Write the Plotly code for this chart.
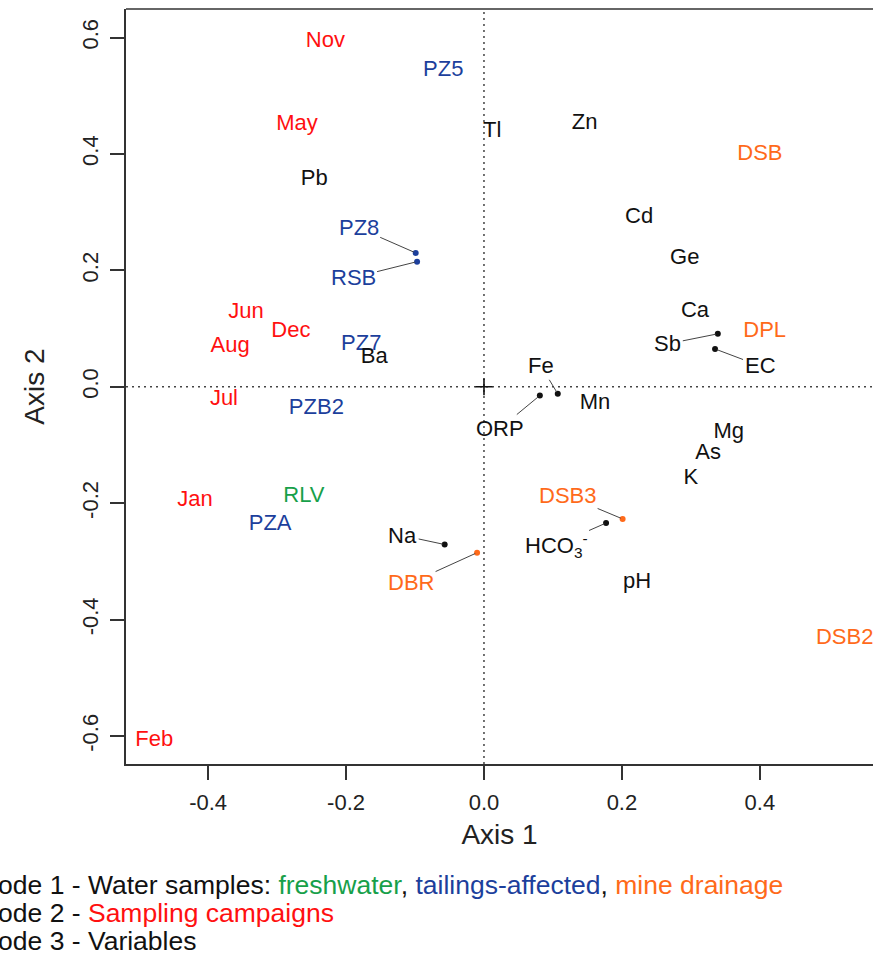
import plotly.graph_objects as go

FONT = "Liberation Sans, Arial, Helvetica, sans-serif"
GREEN = "#17a04a"
BLUE = "#1c3f9c"
ORANGE = "#ff6a1a"
RED = "#ff1010"
BLACK = "#111111"
TYPE_COLOR = {"freshwater": GREEN, "tailings": BLUE, "drainage": ORANGE}

# ---------------- data ----------------
# Mode 1 - water samples (label at coordinate)
samples = ["RLV", "PZ5", "PZ7", "PZB2", "PZA", "DSB", "DPL", "DSB2"]
samples_x = [-0.261, -0.059, -0.178, -0.243, -0.310, 0.400, 0.407, 0.523]
samples_y = [-0.189, 0.543, 0.073, -0.038, -0.236, 0.399, 0.095, -0.433]
samples_type = ["freshwater", "tailings", "tailings", "tailings", "tailings",
                "drainage", "drainage", "drainage"]

# Mode 1 - water samples drawn as points with leader labels
samples_pt = ["PZ8", "RSB", "DSB3", "DBR"]
samples_pt_x = [-0.099, -0.097, 0.201, -0.010]
samples_pt_y = [0.230, 0.215, -0.227, -0.285]
samples_pt_type = ["tailings", "tailings", "drainage", "drainage"]

# Mode 2 - sampling campaigns
campaigns = ["Nov", "May", "Jun", "Dec", "Aug", "Jul", "Jan", "Feb"]
campaigns_x = [-0.230, -0.271, -0.345, -0.280, -0.368, -0.377, -0.419, -0.478]
campaigns_y = [0.593, 0.451, 0.128, 0.095, 0.069, -0.021, -0.196, -0.607]

# Mode 3 - variables (label at coordinate)
variables = ["Tl", "Zn", "Pb", "Cd", "Ge", "Ca", "Ba", "Mn", "Mg", "As", "K", "pH"]
variables_x = [0.012, 0.146, -0.246, 0.225, 0.291, 0.306, -0.159, 0.161, 0.355, 0.325, 0.300, 0.222]
variables_y = [0.439, 0.452, 0.356, 0.291, 0.220, 0.129, 0.050, -0.028, -0.079, -0.115, -0.158, -0.337]

# Mode 3 - variables drawn as points with leader labels
variables_pt = ["Sb", "EC", "Fe", "ORP", "Na", "HCO<sub>3</sub><sup>-</sup>"]
variables_pt_x = [0.339, 0.335, 0.107, 0.081, -0.057, 0.177]
variables_pt_y = [0.091, 0.065, -0.012, -0.015, -0.271, -0.234]

x_ticks = [-0.4, -0.2, 0.0, 0.2, 0.4]
y_ticks = [-0.6, -0.4, -0.2, 0.0, 0.2, 0.4, 0.6]

# label displacement (pixels) for the leader-line labels (layout only)
label_offset = {
    "PZ8": (-57, -25), "RSB": (-64, 16), "DSB3": (-55, -23), "DBR": (-66, 30),
    "Sb": (-50, 10), "EC": (45, 17), "Fe": (-17, -28), "ORP": (-40, 33),
    "Na": (-42, -9), "HCO<sub>3</sub><sup>-</sup>": (-50, 22),
}

LABEL_SIZE = 22

fig = go.Figure()

# plain text labels
fig.add_trace(go.Scatter(
    x=samples_x, y=samples_y, text=samples, mode="text",
    textfont=dict(family=FONT, size=LABEL_SIZE, color=[TYPE_COLOR[t] for t in samples_type]),
    cliponaxis=False, hoverinfo="text", showlegend=False))
fig.add_trace(go.Scatter(
    x=campaigns_x, y=campaigns_y, text=campaigns, mode="text",
    textfont=dict(family=FONT, size=LABEL_SIZE, color=RED),
    cliponaxis=False, hoverinfo="text", showlegend=False))
fig.add_trace(go.Scatter(
    x=variables_x, y=variables_y, text=variables, mode="text",
    textfont=dict(family=FONT, size=LABEL_SIZE, color=BLACK),
    cliponaxis=False, hoverinfo="text", showlegend=False))

# points
fig.add_trace(go.Scatter(
    x=samples_pt_x, y=samples_pt_y, mode="markers",
    marker=dict(size=6, color=[TYPE_COLOR[t] for t in samples_pt_type]),
    hovertext=samples_pt, hoverinfo="text", showlegend=False))
fig.add_trace(go.Scatter(
    x=variables_pt_x, y=variables_pt_y, mode="markers",
    marker=dict(size=6, color=BLACK),
    hovertext=variables_pt, hoverinfo="text", showlegend=False))

# origin cross
fig.add_trace(go.Scatter(
    x=[0], y=[0], mode="markers",
    marker=dict(symbol="cross-thin", size=12, line=dict(width=1.6, color=BLACK)),
    hoverinfo="skip", showlegend=False))

annotations = []
for name, x, y, t in zip(samples_pt, samples_pt_x, samples_pt_y, samples_pt_type):
    dx, dy = label_offset[name]
    annotations.append(dict(
        x=x, y=y, xref="x", yref="y", text=name, showarrow=True, ax=dx, ay=dy,
        arrowhead=0, arrowwidth=1, arrowcolor="#444444", standoff=2,
        font=dict(family=FONT, size=LABEL_SIZE, color=TYPE_COLOR[t])))
for name, x, y in zip(variables_pt, variables_pt_x, variables_pt_y):
    dx, dy = label_offset[name]
    annotations.append(dict(
        x=x, y=y, xref="x", yref="y", text=name, showarrow=True, ax=dx, ay=dy,
        arrowhead=0, arrowwidth=1, arrowcolor="#444444", standoff=2,
        font=dict(family=FONT, size=LABEL_SIZE, color=BLACK)))

# mode legend text under the plot
LEG_SIZE = 26.5
leg_lines = [
    "Mode 1 - Water samples: "
    f"<span style='color:{GREEN}'>freshwater</span>, "
    f"<span style='color:{BLUE}'>tailings-affected</span>, "
    f"<span style='color:{ORANGE}'>mine drainage</span>",
    f"Mode 2 - <span style='color:{RED}'>Sampling campaigns</span>",
    "Mode 3 - Variables",
]
leg_y = [-0.160, -0.197, -0.234]
for txt, yy in zip(leg_lines, leg_y):
    annotations.append(dict(
        x=-0.2035, y=yy, xref="paper", yref="paper", xanchor="left", yanchor="middle",
        text=txt, showarrow=False, font=dict(family=FONT, size=LEG_SIZE, color=BLACK)))

fig.update_layout(
    width=873, height=954,
    margin=dict(l=126, r=0, t=9, b=190),
    paper_bgcolor="white", plot_bgcolor="white",
    font=dict(family=FONT, color=BLACK),
    annotations=annotations,
    shapes=[
        dict(type="line", xref="x", yref="paper", x0=0, x1=0, y0=0, y1=1,
             line=dict(color="#444444", width=1.5, dash="2px,4px"), layer="below"),
        dict(type="line", xref="paper", yref="y", x0=0, x1=1, y0=0, y1=0,
             line=dict(color="#444444", width=1.5, dash="2px,4px"), layer="below"),
        dict(type="line", xref="paper", yref="paper", x0=0, x1=1, y0=1, y1=1,
             line=dict(color="#333333", width=1.5)),
    ],
    xaxis=dict(
        range=[-0.519, 0.564], tickvals=x_ticks,
        ticktext=[f"{v:.1f}" for v in x_ticks],
        showgrid=False, zeroline=False, showline=True, linecolor="#333333", linewidth=1.5,
        ticks="outside", ticklen=14, tickwidth=1.5, tickcolor="#333333",
        ticklabelstandoff=4,
        tickfont=dict(family=FONT, size=22, color="#222222"),
        title=dict(text="Axis 1", font=dict(family=FONT, size=28, color="#222222"), standoff=10),
    ),
    yaxis=dict(
        range=[-0.648, 0.649], tickvals=y_ticks,
        ticktext=[f"{v:.1f}" for v in y_ticks], tickangle=-90,
        showgrid=False, zeroline=False, showline=True, linecolor="#333333", linewidth=1.5,
        ticks="outside", ticklen=14, tickwidth=1.5, tickcolor="#333333",
        ticklabelstandoff=3,
        tickfont=dict(family=FONT, size=22, color="#222222"),
        title=dict(text="Axis 2", font=dict(family=FONT, size=28, color="#222222"), standoff=26),
    ),
)

fig.write_html("out.html")
